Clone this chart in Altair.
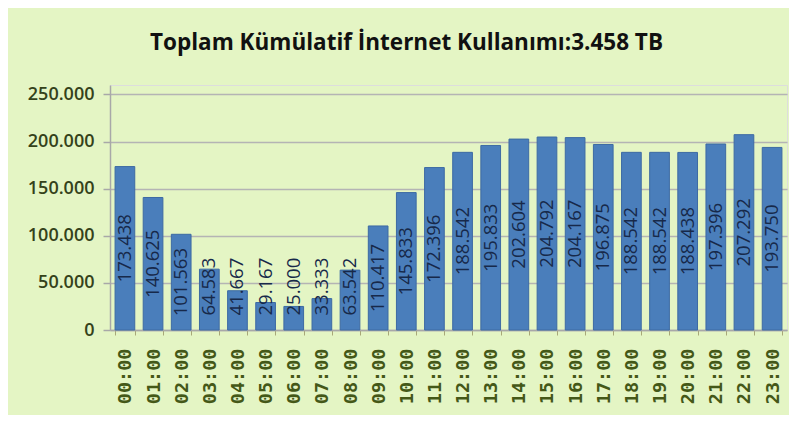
import altair as alt
import pandas as pd

hours = ["00:00", "01:00", "02:00", "03:00", "04:00", "05:00", "06:00", "07:00",
         "08:00", "09:00", "10:00", "11:00", "12:00", "13:00", "14:00", "15:00",
         "16:00", "17:00", "18:00", "19:00", "20:00", "21:00", "22:00", "23:00"]
values = [173438, 140625, 101563, 64583, 41667, 29167, 25000, 33333,
          63542, 110417, 145833, 172396, 188542, 195833, 202604, 204792,
          204167, 196875, 188542, 188542, 188438, 197396, 207292, 193750]
y_ticks = [0, 50000, 100000, 150000, 200000, 250000]
title_text = "Toplam Kümülatif İnternet Kullanımı:3.458 TB"

df = pd.DataFrame({"saat": hours, "deger": values})

x_enc = alt.X(
    "saat:N", sort=hours, title=None,
    scale=alt.Scale(paddingInner=0.3, paddingOuter=0.18),
    axis=alt.Axis(labelAngle=-90, labelFont="DejaVu Sans Mono", labelFontSize=18.5,
                  labelFontWeight="bold", labelColor="#445818", labelPadding=13,
                  tickBand="extent", tickColor="#a8a878", tickSize=5,
                  domainColor="#a8a8a8", domainWidth=1.5, grid=False),
)

base = alt.Chart(df)

bars = base.mark_bar(color="#4a7ebb", stroke="#3d6aa3", strokeWidth=1).encode(
    x=x_enc,
    y=alt.Y("deger:Q", title=None, scale=alt.Scale(domain=[0, 250000]),
            axis=alt.Axis(values=y_ticks, format=",d", labelFont="Open Sans",
                          labelFontSize=18, labelFontWeight=600, labelColor="#34421a",
                          tickColor="#a8a8a8", tickSize=7, tickWidth=1.5,
                          domainColor="#a8a8a8", domainWidth=1.5,
                          gridColor="#b4b4b4", gridWidth=1.5, labelPadding=9)),
)

labels = base.transform_calculate(ly="max(datum.deger / 2, 46000)").mark_text(
    angle=270, font="Open Sans", fontSize=18.5, color="#17294a"
).encode(
    x=alt.X("saat:N", sort=hours),
    y=alt.Y("ly:Q"),
    text=alt.Text("deger:Q", format=",d"),
)

chart = alt.layer(bars, labels).properties(
    width=677, height=245,
    padding={"left": 102, "top": 77, "right": 2, "bottom": 85},
    autosize="none",
    background="#e4f5c4",
    title=alt.Title(title_text, font="Open Sans", fontSize=22.5, fontWeight="bold",
                    color="#111111", anchor="middle", frame="group", dx=-42, offset=31),
).configure_view(fill="white", strokeWidth=0).configure(
    locale={"number": {"decimal": ",", "thousands": ".", "grouping": [3],
                       "currency": ["", " TL"]}}
)

chart.save("out.html", embed_options={"renderer": "svg", "actions": False})
